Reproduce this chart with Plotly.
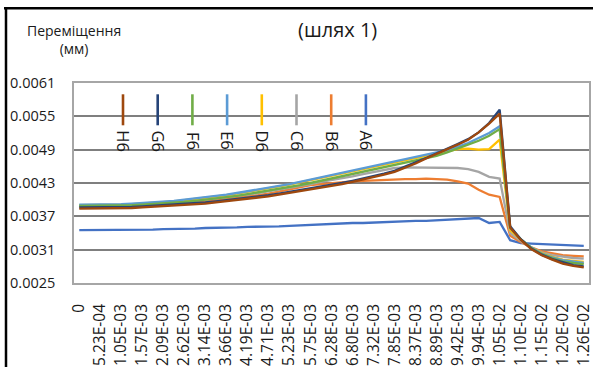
import plotly.graph_objects as go

# Displacement along path 1, sampled at 49 points (every second one labelled)
tick_labels = [
    "0", "5.23E-04", "1.05E-03", "1.57E-03", "2.09E-03", "2.62E-03",
    "3.14E-03", "3.66E-03", "4.19E-03", "4.71E-03", "5.23E-03", "5.75E-03",
    "6.28E-03", "6.80E-03", "7.32E-03", "7.85E-03", "8.37E-03", "8.89E-03",
    "9.42E-03", "9.94E-03", "1.05E-02", "1.10E-02", "1.15E-02", "1.20E-02",
    "1.26E-02",
]

A6 = [0.00345, 0.00345, 0.00345, 0.00345, 0.00345, 0.00346, 0.00346, 0.00346, 0.00347, 0.00347,
      0.00348, 0.00348, 0.00349, 0.00349, 0.00350, 0.00350, 0.00351, 0.00351, 0.00352, 0.00352,
      0.00353, 0.00354, 0.00354, 0.00355, 0.00356, 0.00357, 0.00358, 0.00358, 0.00359, 0.00360,
      0.00361, 0.00361, 0.00362, 0.00362, 0.00363, 0.00364, 0.00364, 0.00365, 0.00367, 0.00358,
      0.00360, 0.00327, 0.00322, 0.00321, 0.00320, 0.00319, 0.00318, 0.00317, 0.00317]

B6 = [0.00388, 0.00388, 0.00388, 0.00388, 0.00389, 0.00389, 0.00390, 0.00391, 0.00392, 0.00393,
      0.00394, 0.00396, 0.00397, 0.00399, 0.00401, 0.00403, 0.00406, 0.00408, 0.00411, 0.00415,
      0.00419, 0.00423, 0.00426, 0.00428, 0.00430, 0.00432, 0.00433, 0.00434, 0.00435, 0.00436,
      0.00436, 0.00437, 0.00437, 0.00438, 0.00437, 0.00436, 0.00433, 0.00429, 0.00418, 0.00409,
      0.00405, 0.00335, 0.00324, 0.00314, 0.00307, 0.00303, 0.00300, 0.00299, 0.00298]

C6 = [0.00389, 0.00389, 0.00389, 0.00389, 0.00390, 0.00390, 0.00391, 0.00392, 0.00393, 0.00395,
      0.00396, 0.00398, 0.00400, 0.00402, 0.00404, 0.00407, 0.00409, 0.00412, 0.00415, 0.00418,
      0.00421, 0.00425, 0.00428, 0.00432, 0.00435, 0.00439, 0.00442, 0.00446, 0.00450, 0.00454,
      0.00457, 0.00458, 0.00458, 0.00458, 0.00458, 0.00458, 0.00457, 0.00455, 0.00450, 0.00441,
      0.00438, 0.00340, 0.00326, 0.00314, 0.00305, 0.00300, 0.00297, 0.00295, 0.00294]

D6 = [0.00390, 0.00390, 0.00390, 0.00391, 0.00391, 0.00392, 0.00393, 0.00394, 0.00396, 0.00397,
      0.00399, 0.00401, 0.00403, 0.00406, 0.00408, 0.00411, 0.00414, 0.00417, 0.00420, 0.00424,
      0.00427, 0.00431, 0.00435, 0.00439, 0.00443, 0.00447, 0.00451, 0.00455, 0.00459, 0.00463,
      0.00466, 0.00470, 0.00474, 0.00478, 0.00482, 0.00487, 0.00491, 0.00492, 0.00490, 0.00491,
      0.00508, 0.00345, 0.00328, 0.00314, 0.00304, 0.00297, 0.00292, 0.00290, 0.00288]

E6 = [0.00391, 0.00391, 0.00391, 0.00392, 0.00392, 0.00393, 0.00394, 0.00395, 0.00397, 0.00398,
      0.00400, 0.00402, 0.00404, 0.00407, 0.00409, 0.00412, 0.00415, 0.00418, 0.00421, 0.00425,
      0.00428, 0.00432, 0.00436, 0.00440, 0.00444, 0.00448, 0.00452, 0.00456, 0.00460, 0.00464,
      0.00468, 0.00472, 0.00476, 0.00480, 0.00484, 0.00489, 0.00495, 0.00502, 0.00511, 0.00520,
      0.00532, 0.00349, 0.00329, 0.00314, 0.00303, 0.00296, 0.00291, 0.00288, 0.00286]

F6 = [0.00389, 0.00389, 0.00389, 0.00389, 0.00390, 0.00390, 0.00391, 0.00392, 0.00393, 0.00395,
      0.00396, 0.00398, 0.00400, 0.00402, 0.00405, 0.00407, 0.00410, 0.00413, 0.00416, 0.00419,
      0.00423, 0.00426, 0.00430, 0.00434, 0.00438, 0.00442, 0.00446, 0.00450, 0.00454, 0.00458,
      0.00462, 0.00466, 0.00470, 0.00475, 0.00479, 0.00485, 0.00492, 0.00499, 0.00506, 0.00515,
      0.00527, 0.00350, 0.00329, 0.00313, 0.00302, 0.00295, 0.00289, 0.00286, 0.00284]

G6 = [0.00386, 0.00386, 0.00386, 0.00386, 0.00386, 0.00387, 0.00388, 0.00389, 0.00390, 0.00391,
      0.00392, 0.00394, 0.00395, 0.00397, 0.00399, 0.00401, 0.00403, 0.00406, 0.00408, 0.00411,
      0.00414, 0.00417, 0.00420, 0.00423, 0.00427, 0.00430, 0.00434, 0.00438, 0.00442, 0.00447,
      0.00452, 0.00459, 0.00467, 0.00475, 0.00483, 0.00491, 0.00500, 0.00509, 0.00521, 0.00538,
      0.00562, 0.00352, 0.00329, 0.00312, 0.00301, 0.00293, 0.00287, 0.00282, 0.00280]

H6 = [0.00384, 0.00384, 0.00384, 0.00384, 0.00385, 0.00385, 0.00386, 0.00387, 0.00388, 0.00389,
      0.00390, 0.00392, 0.00393, 0.00395, 0.00397, 0.00399, 0.00401, 0.00404, 0.00406, 0.00409,
      0.00412, 0.00415, 0.00418, 0.00421, 0.00425, 0.00428, 0.00432, 0.00436, 0.00440, 0.00445,
      0.00450, 0.00457, 0.00465, 0.00474, 0.00482, 0.00490, 0.00499, 0.00508, 0.00521, 0.00537,
      0.00555, 0.00350, 0.00328, 0.00311, 0.00300, 0.00292, 0.00285, 0.00281, 0.00278]

series_names = ["A6", "B6", "C6", "D6", "E6", "F6", "G6", "H6"]
series_values = [A6, B6, C6, D6, E6, F6, G6, H6]
series_colors = ["#4472C4", "#ED7D31", "#A5A5A5", "#FFC000",
                 "#5B9BD5", "#70AD47", "#264478", "#9E480E"]

FONT = "Open Sans, Noto Sans, sans-serif"
TXT = "#1A1A1A"
W, H = 593, 367
PL, PR, PT, PB = 74, 589, 82.7, 282.7  # plot box in pixels


def px_x(x):
    return (x - PL) / (PR - PL)


def px_y(y):
    return (PB - y) / (PB - PT)


fig = go.Figure()
xs = list(range(len(A6)))
for name, vals, col in zip(series_names, series_values, series_colors):
    fig.add_trace(go.Scatter(x=xs, y=vals, name=name, mode="lines",
                             line=dict(color=col, width=2.3), showlegend=False))

shapes = []
annotations = []

# white box that hosts the rotated legend, above grid but under traces
shapes.append(dict(type="rect", xref="paper", yref="paper", layer="between",
                   x0=px_x(106), x1=px_x(386), y0=px_y(157), y1=px_y(84),
                   fillcolor="white", line=dict(width=0)))

# legend entries, right to left: H6 ... A6
legend_order = list(reversed(range(len(series_names))))
for j, i in enumerate(legend_order):
    cx = 123 + j * 34.7
    shapes.append(dict(type="line", xref="paper", yref="paper", layer="above",
                       x0=px_x(cx), x1=px_x(cx), y0=px_y(125), y1=px_y(94),
                       line=dict(color=series_colors[i], width=2.6)))
    annotations.append(dict(text=series_names[i], xref="paper", yref="paper",
                            x=px_x(cx + 0.5), y=px_y(140.5), textangle=90, showarrow=False,
                            font=dict(family=FONT, size=16.5, color=TXT),
                            xanchor="center", yanchor="middle"))

# outer frame lines (top and left)
shapes.append(dict(type="line", xref="paper", yref="paper", layer="above",
                   x0=px_x(4), x1=px_x(593), y0=px_y(8), y1=px_y(8),
                   line=dict(color="black", width=2.5)))
shapes.append(dict(type="line", xref="paper", yref="paper", layer="above",
                   x0=px_x(6), x1=px_x(6), y0=px_y(8), y1=px_y(367),
                   line=dict(color="black", width=2.5)))

annotations.append(dict(text="Переміщення<br>(мм)", xref="paper", yref="paper",
                        x=px_x(73.5), y=px_y(39), showarrow=False, align="center",
                        font=dict(family=FONT, size=14, color=TXT),
                        xanchor="center", yanchor="middle"))
annotations.append(dict(text="(шлях 1)", xref="paper", yref="paper",
                        x=px_x(337.5), y=px_y(29.5), showarrow=False,
                        font=dict(family=FONT, size=20, color=TXT),
                        xanchor="center", yanchor="middle"))

fig.update_layout(
    width=W, height=H,
    margin=dict(l=PL, r=W - PR, t=PT, b=H - PB, pad=0),
    paper_bgcolor="white", plot_bgcolor="white",
    shapes=shapes, annotations=annotations,
    showlegend=False,
)
fig.update_xaxes(
    range=[-0.5, len(A6) - 0.5],
    tickmode="array", tickvals=xs[::2], ticktext=tick_labels,
    tickangle=-90, ticks="", showgrid=False, zeroline=False,
    showline=True, linecolor="#A6A6A6", linewidth=1.5, mirror=True,
    tickfont=dict(family=FONT, size=15.5, color=TXT),
    ticklabelstandoff=13, ticklabeloverflow="allow", automargin=False,
)
fig.update_yaxes(
    range=[0.0025, 0.0061], tick0=0.0025, dtick=0.0006, tickformat=".4f",
    ticks="", showgrid=True, gridcolor="#7F7F7F", gridwidth=1.6, zeroline=False,
    showline=True, linecolor="#A6A6A6", linewidth=1.5, mirror=True,
    tickfont=dict(family=FONT, size=14.5, color=TXT),
    ticklabelstandoff=14, automargin=False,
)

fig.write_html("out.html")
